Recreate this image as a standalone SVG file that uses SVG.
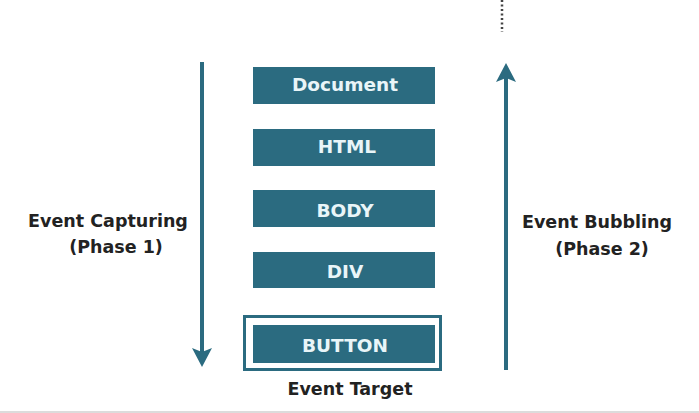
<svg xmlns="http://www.w3.org/2000/svg" width="699" height="413" viewBox="0 0 699 413">
<style>
.box{fill:#2b6b80}
.bt{font-family:"DejaVu Sans",sans-serif;font-weight:bold;font-size:18.5px;fill:#e9f5f8;text-anchor:middle}
.lbl{font-family:"DejaVu Sans",sans-serif;font-weight:bold;font-size:17.5px;fill:#222;text-anchor:middle}
.ln{stroke:#2b6b80;stroke-width:4;fill:none}
</style>
<rect width="699" height="413" fill="#fff"/>
<rect x="0" y="411" width="699" height="2" fill="#dcdcdc"/>
<g id="connectors">
<line x1="502" y1="0" x2="502" y2="32" stroke="#444" stroke-width="2.5" stroke-dasharray="2 2.5"/>
<line class="ln" x1="202" y1="62" x2="202" y2="352"/>
<polygon points="192,348 202,352 212,348 202,367" fill="#2b6b80"/>
<line class="ln" x1="506" y1="78" x2="506" y2="370"/>
<polygon points="496,82 506,78 516,82 506,63" fill="#2b6b80"/>
</g>
<g id="capturing-label">
<text class="lbl" x="108" y="227">Event Capturing</text>
<text class="lbl" x="116" y="253">(Phase 1)</text>
</g>
<g id="bubbling-label">
<text class="lbl" x="597" y="228">Event Bubbling</text>
<text class="lbl" x="602" y="255">(Phase 2)</text>
</g>
<g id="document">
<rect class="box" x="253" y="67" width="182" height="37"/>
<text class="bt" x="345" y="91">Document</text>
</g>
<g id="html">
<rect class="box" x="253" y="129" width="182" height="37"/>
<text class="bt" x="347" y="153">HTML</text>
</g>
<g id="body">
<rect class="box" x="253" y="190" width="182" height="37"/>
<text class="bt" x="345" y="217">BODY</text>
</g>
<g id="div">
<rect class="box" x="253" y="252" width="182" height="36"/>
<text class="bt" x="345" y="278">DIV</text>
</g>
<g id="button">
<rect x="244.5" y="316.5" width="196" height="53" fill="none" stroke="#2b6b80" stroke-width="3"/>
<rect class="box" x="253" y="325" width="182" height="38"/>
<text class="bt" x="345" y="352">BUTTON</text>
<text class="lbl" x="350" y="395">Event Target</text>
</g>
</svg>
